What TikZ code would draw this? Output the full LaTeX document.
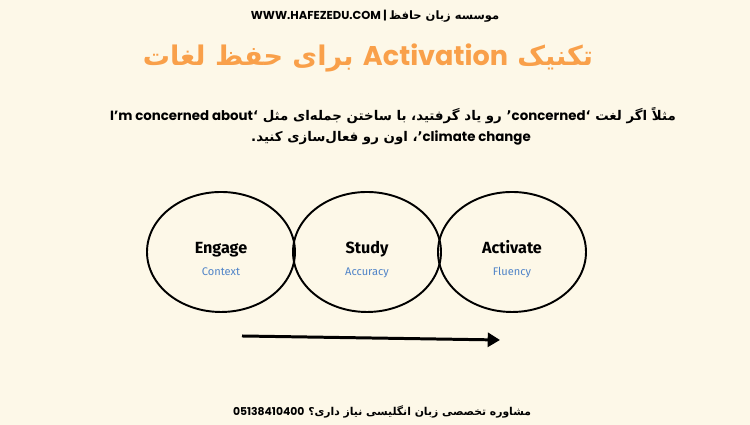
\documentclass[tikz,border=0pt]{standalone}
\usepackage{fontspec}
\usetikzlibrary{shapes.geometric,arrows.meta,positioning}
\TeXXeTstate=1
\newfontfamily\latinfont{Poppins}
\newfontfamily\farsifont[Script=Arabic]{DejaVu Sans}
\newfontfamily\handfont{Fira Sans}
\definecolor{paper}{RGB}{253,248,232}
\definecolor{titleorange}{RGB}{249,160,74}
\definecolor{noteblue}{RGB}{80,132,200}
\begin{document}
\begin{tikzpicture}
        \tikzstyle{bubble} = [draw,ellipse,line width=1.1pt,minimum width=2.96cm,minimum height=2.4cm,inner sep=0pt]
        \tikzstyle{stage} = [anchor=base,font=\handfont\bfseries\fontsize{9.2}{11}\selectfont,text=black]
        \tikzstyle{aim} = [anchor=base,font=\handfont\fontsize{6.3}{8}\selectfont,text=noteblue]
        \tikzstyle{line} = [font=\bfseries\fontsize{7.6}{9}\selectfont]

        \fill[paper] (0,0) rectangle (15,8.5);
        \useasboundingbox (0,0) rectangle (15,8.5);

        % header and title
        \node[font=\fontsize{6.55}{8}\selectfont] (site) at (7.5,8.18)
            {\latinfont\bfseries WWW.HAFEZEDU.COM | \farsifont\bfseries\beginR موسسه زبان حافظ\endR};
        \node[text=titleorange,font=\fontsize{15.4}{17}\selectfont] (title) at (7.36,7.34)
            {\farsifont\bfseries\beginR تکنیک {\latinfont\bfseries\beginL Activation\endL} برای حفظ لغات\endR};

        % example sentence
        \node[line] (lineA) at (7.86,6.18)
            {\farsifont\bfseries\beginR مثلاً اگر لغت ‘{\latinfont\bfseries\beginL concerned\endL}’ رو یاد گرفتید، با ساختن جمله‌ای مثل ‘{\latinfont\bfseries\beginL I’m concerned about\endL}\endR};
        \node[line] (lineB) at (7.82,5.74)
            {\farsifont\bfseries\beginR{\latinfont\bfseries\beginL climate change\endL}’، اون رو فعال‌سازی کنید.\endR};

        % the three stages
        \node[bubble] (engage) at (4.42,3.46){};
        \node[bubble] (study) at (7.34,3.46){};
        \node[bubble] (activate) at (10.24,3.46){};

        \node[stage] (engageT) at (4.42,3.42){Engage};
        \node[stage] (studyT) at (7.34,3.42){Study};
        \node[stage] (activateT) at (10.24,3.42){Activate};
        \node[aim] (engageS) at (4.42,2.98){Context};
        \node[aim] (studyS) at (7.34,2.98){Accuracy};
        \node[aim] (activateS) at (10.24,2.98){Fluency};

        \coordinate (from) at (4.84,1.78);
        \coordinate (to) at (10.0,1.70);
        \draw[line width=1.7pt,-{Triangle[length=7pt,width=8pt]}] (from) -- (to);

        % footer
        \node[font=\fontsize{6.15}{8}\selectfont] (phone) at (7.64,0.26)
            {\farsifont\bfseries\beginR مشاوره تخصصی زبان انگلیسی نیاز داری؟ {\latinfont\bfseries\beginL 05138410400\endL}\endR};

    \end{tikzpicture}
\end{document}
